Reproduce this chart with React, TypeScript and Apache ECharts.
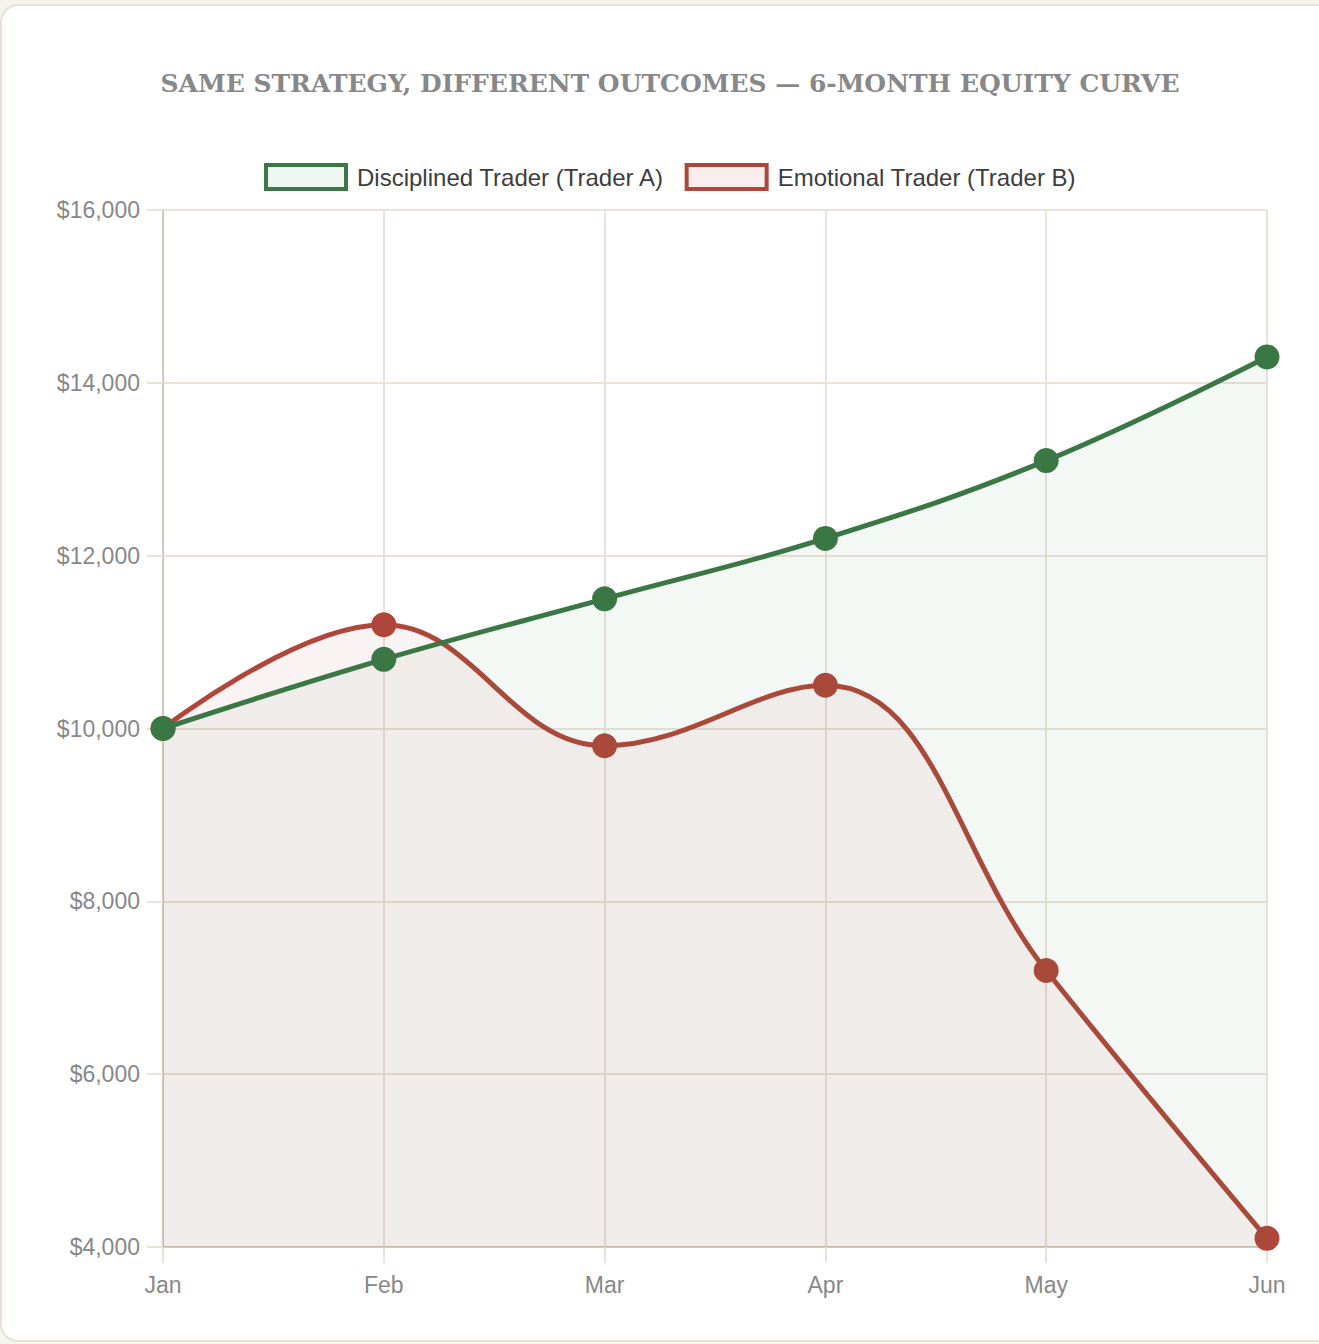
import { useEffect, useRef } from 'react'
import * as echarts from 'echarts'

const months = ['Jan', 'Feb', 'Mar', 'Apr', 'May', 'Jun']
const traderA = [10000, 10800, 11500, 12200, 13100, 14300]
const traderB = [10000, 11200, 9800, 10500, 7200, 4100]
const nameA = 'Disciplined Trader (Trader A)'
const nameB = 'Emotional Trader (Trader B)'

const GREEN = '#3b7744'
const RED = '#b0463a'
const GREEN_FILL = 'rgba(52,128,70,0.08)'
const RED_FILL = 'rgba(176,70,58,0.09)'
const GRID = '#e9e3d9'
const AXIS = '#d0c9bc'

export default function App() {
  const ref = useRef<HTMLDivElement | null>(null)

  useEffect(() => {
    if (!ref.current) return
    const chart = echarts.init(ref.current, null, { renderer: 'svg' })
    chart.setOption({
      animation: false,
      title: {
        text: 'SAME STRATEGY, DIFFERENT OUTCOMES — 6-MONTH EQUITY CURVE',
        left: 'center',
        top: 66,
        textStyle: {
          fontFamily: 'DejaVu Serif',
          fontWeight: 'bold',
          fontSize: 25,
          color: '#888',
        },
      },
      legend: {
        top: 158,
        left: 'center',
        icon: 'rect',
        itemWidth: 80,
        itemHeight: 24,
        itemGap: 20,
        textStyle: {
          fontFamily: 'Liberation Sans',
          fontSize: 24,
          color: '#3d3d3d',
          padding: [0, 0, 0, 6],
        },
        data: [
          { name: nameA, itemStyle: { color: GREEN_FILL, borderColor: GREEN, borderWidth: 4 } },
          { name: nameB, itemStyle: { color: RED_FILL, borderColor: RED, borderWidth: 4 } },
        ],
      },
      grid: { left: 163, right: 73, top: 210, bottom: 97 },
      xAxis: {
        type: 'category',
        data: months,
        boundaryGap: false,
        axisLine: { lineStyle: { color: AXIS, width: 2 } },
        axisTick: { show: true, length: 16, lineStyle: { color: GRID, width: 2 } },
        splitLine: { show: true, lineStyle: { color: GRID, width: 2 } },
        axisLabel: { color: '#888', fontSize: 23, fontFamily: 'Liberation Sans', margin: 26 },
      },
      yAxis: {
        type: 'value',
        min: 4000,
        max: 16000,
        interval: 2000,
        axisLine: { show: true, lineStyle: { color: AXIS, width: 2 } },
        axisTick: { show: true, length: 16, lineStyle: { color: GRID, width: 2 } },
        splitLine: { lineStyle: { color: GRID, width: 2 } },
        axisLabel: {
          color: '#888',
          fontSize: 23,
          fontFamily: 'Liberation Sans',
          margin: 23,
          formatter: (v: number) => '$' + v.toLocaleString('en-US'),
        },
      },
      series: [
        {
          name: nameA,
          type: 'line',
          data: traderA,
          smooth: 0.4,
          z: 3,
          symbol: 'circle',
          symbolSize: 25,
          lineStyle: { color: GREEN, width: 5 },
          itemStyle: { color: GREEN },
          areaStyle: { color: GREEN_FILL, origin: 'start' },
        },
        {
          name: nameB,
          type: 'line',
          data: traderB,
          smooth: 0.4,
          z: 2,
          symbol: 'circle',
          symbolSize: 25,
          lineStyle: { color: RED, width: 5 },
          itemStyle: { color: RED },
          areaStyle: { color: RED_FILL, origin: 'start' },
        },
      ],
    })
    return () => chart.dispose()
  }, [])

  return (
    <div
      style={{
        position: 'fixed',
        left: 0,
        top: 0,
        width: 1319,
        height: 1344,
        overflow: 'hidden',
        background: '#f6f4ef',
      }}
    >
      <div
        style={{
          position: 'absolute',
          left: 0,
          top: 4,
          width: 1340,
          height: 1338,
          boxSizing: 'border-box',
          border: '2px solid #e8e0d2',
          borderRadius: 18,
          background: '#fff',
        }}
      />
      <div ref={ref} style={{ position: 'absolute', left: 0, top: 0, width: 1340, height: 1344 }} />
    </div>
  )
}
